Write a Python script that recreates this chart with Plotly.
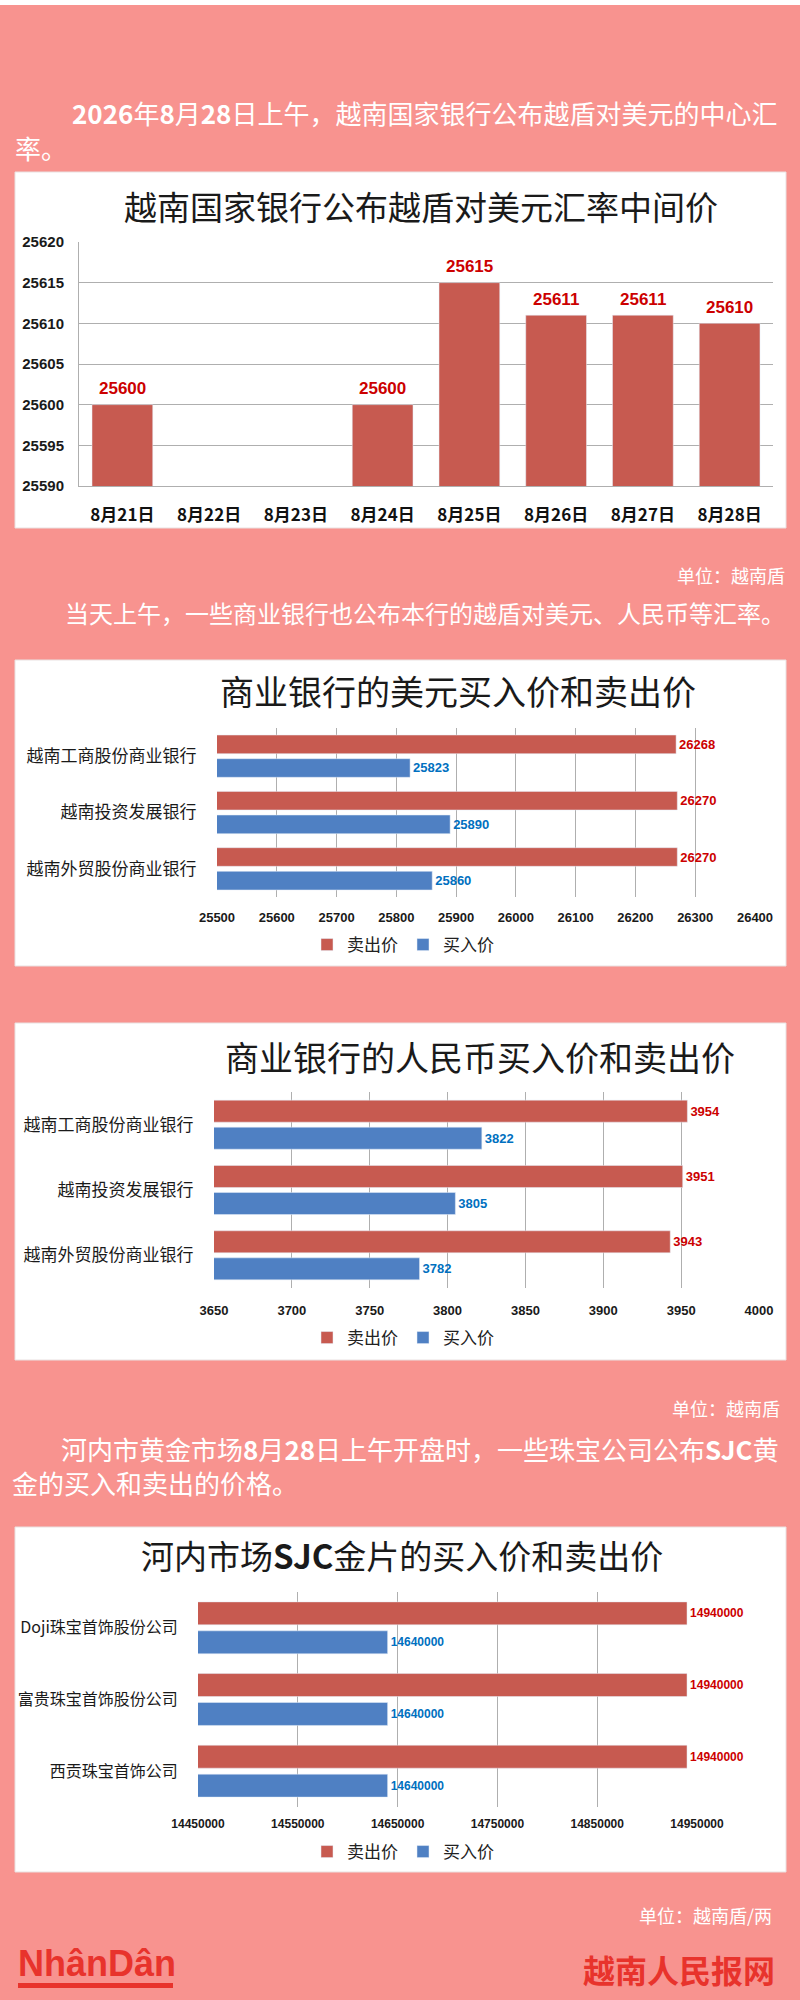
import plotly.graph_objects as go

# ---------------- data ----------------
dates = ["8月21日", "8月22日", "8月23日", "8月24日", "8月25日", "8月26日", "8月27日", "8月28日"]
mid_rate = [25600, None, None, 25600, 25615, 25611, 25611, 25610]

banks = ["越南工商股份商业银行", "越南投资发展银行", "越南外贸股份商业银行"]
usd_sell = [26268, 26270, 26270]
usd_buy = [25823, 25890, 25860]
cny_sell = [3954, 3951, 3943]
cny_buy = [3822, 3805, 3782]

gold_companies = ["Doji珠宝首饰股份公司", "富贵珠宝首饰股份公司", "西贡珠宝首饰公司"]
gold_sell = [14940000, 14940000, 14940000]
gold_buy = [14640000, 14640000, 14640000]

usd_ticks = [25500, 25600, 25700, 25800, 25900, 26000, 26100, 26200, 26300, 26400]
cny_ticks = [3650, 3700, 3750, 3800, 3850, 3900, 3950, 4000]
gold_ticks = [14450000, 14550000, 14650000, 14750000, 14850000, 14950000]
mid_ticks = [25590, 25595, 25600, 25605, 25610, 25615, 25620]

# ---------------- style ----------------
W, H = 800, 2000
BG = "#F8938F"
RED = "#C75A50"
BLUE = "#4F80C3"
LBL_RED = "#CC0000"
LBL_BLUE = "#0070C0"
GRID = "#AFAFAF"
CJK = "Noto Sans CJK SC"
NUM = "Liberation Sans, Arial, sans-serif"


def px(x):
    return x / W


def py(y):
    return 1 - y / H


fig = go.Figure()

# ---- chart 1: central rate (vertical bars) ----
fig.add_trace(go.Bar(
    x=dates, y=mid_rate, marker_color=RED, width=0.7,
    xaxis="x", yaxis="y", showlegend=False, hoverinfo="x+y",
))


def hbars(cats, sell, buy, xa, ya, legend, lsize, width, gap):
    off = gap / 2
    for name, vals, col, lcol, offset in [
        ("卖出价", sell, RED, LBL_RED, -(off + width)),
        ("买入价", buy, BLUE, LBL_BLUE, off),
    ]:
        fig.add_trace(go.Bar(
            y=cats, x=vals, orientation="h", name=name, marker_color=col,
            width=width, offset=offset, xaxis=xa, yaxis=ya, legend=legend,
            text=[str(v) for v in vals], textposition="outside",
            textfont=dict(family=NUM, size=lsize, color=lcol, weight="bold"),
            cliponaxis=False, constraintext="none",
        ))


hbars(banks, usd_sell, usd_buy, "x2", "y2", "legend", 13, 0.33, 0.09)
hbars(banks, cny_sell, cny_buy, "x3", "y3", "legend2", 13, 0.337, 0.077)
hbars(gold_companies, gold_sell, gold_buy, "x4", "y4", "legend3", 12, 0.32, 0.084)

# ---------------- axes ----------------
tick_num = lambda s: dict(family=NUM, size=s, color="#1a1a1a", weight="bold")
cat_font = lambda s: dict(family=CJK, size=s, color="#1a1a1a")

layout = dict(
    width=W, height=H, margin=dict(l=0, r=0, t=0, b=0, pad=0, autoexpand=False),
    paper_bgcolor=BG, plot_bgcolor="white", barmode="overlay",
    xaxis=dict(domain=[px(79), px(773)], anchor="y", type="category",
               categoryorder="array", categoryarray=dates, range=[-0.5, 7.5],
               showgrid=False, showline=True, linecolor=GRID, automargin=False,
               ticks="outside", ticklen=14, tickcolor="rgba(0,0,0,0)",
               tickfont=dict(family=CJK, size=17, color="#111", weight="bold")),
    yaxis=dict(domain=[py(486), py(242)], anchor="x", range=[25590, 25620],
               tickvals=mid_ticks, tickformat="d", showgrid=True, gridcolor=GRID,
               showline=True, linecolor=GRID, zeroline=False, automargin=False,
               ticks="outside", ticklen=11, tickcolor="rgba(0,0,0,0)",
               tickfont=tick_num(15)),
)


def hax(n, x0, x1, y0, y1, rng, tv, tlx, tsize):
    layout[f"xaxis{n}"] = dict(
        domain=[px(x0), px(x1)], anchor=f"y{n}", range=rng, tickvals=tv,
        tickformat="d", showgrid=True, gridcolor=GRID, zeroline=False,
        showline=False, ticks="outside", ticklen=tlx, tickcolor="rgba(0,0,0,0)",
        tickfont=tick_num(tsize), automargin=False)
    layout[f"yaxis{n}"] = dict(
        domain=[py(y1), py(y0)], anchor=f"x{n}", type="category",
        autorange="reversed", showgrid=False, showline=False, automargin=False,
        ticks="outside", ticklen=16, tickcolor="rgba(0,0,0,0)",
        tickfont=cat_font(17 if n != 4 else 16))


hax(2, 217, 755, 728, 897, [25500, 26400], usd_ticks, 8, 13)
hax(3, 214, 759, 1092, 1288, [3650, 4000], cny_ticks, 10, 13)
hax(4, 198, 697, 1592, 1807, [14450000, 14950000], gold_ticks, 6, 12)

leg = lambda y: dict(orientation="h", x=px(403), xanchor="center", y=py(y),
                     yanchor="middle", bgcolor="rgba(0,0,0,0)",
                     font=dict(family=CJK, size=17, color="#222"),
                     itemwidth=30, traceorder="normal")
layout["legend"] = leg(945)
layout["legend2"] = leg(1338)
layout["legend3"] = leg(1852)

# ---------------- shapes ----------------
shapes = [dict(type="rect", xref="paper", yref="paper", x0=0, x1=1,
               y0=py(5), y1=1, fillcolor="white", line_width=0, layer="below")]
for (t, b) in [(172, 528), (660, 966), (1023, 1360), (1527, 1872)]:
    shapes.append(dict(type="rect", xref="paper", yref="paper",
                       x0=px(15), x1=px(786), y0=py(b), y1=py(t),
                       fillcolor="white", line=dict(color="#E9E1E1", width=1),
                       layer="below"))
shapes.append(dict(type="rect", xref="paper", yref="paper",
                   x0=px(18), x1=px(173), y0=py(1988), y1=py(1983),
                   fillcolor="#E8332C", line_width=0))
layout["shapes"] = shapes

# ---------------- annotations ----------------
ann = []


def text(t, x, y, size, color="white", anchor="left", family=CJK, weight=None):
    f = dict(family=family, size=size, color=color)
    if weight:
        f["weight"] = weight
    ann.append(dict(text=t, x=px(x), y=py(y), xref="paper", yref="paper",
                    xanchor=anchor, yanchor="middle", showarrow=False, font=f))


text("<b>2026</b>年<b>8</b>月<b>28</b>日上午，越南国家银行公布越盾对美元的中心汇", 70, 113, 26)
text("率。", 13, 147, 26)
text("单位：越南盾", 787, 575, 18, anchor="right")
text("当天上午，一些商业银行也公布本行的越盾对美元、人民币等汇率。", 63, 612, 24)
text("单位：越南盾", 782, 1408, 18, anchor="right")
text("河内市黄金市场<b>8</b>月<b>28</b>日上午开盘时，一些珠宝公司公布<b>SJC</b>黄", 59, 1448, 26)
text("金的买入和卖出的价格。", 10, 1482, 26)
text("单位：越南盾/两", 774, 1915, 18, anchor="right")

# chart titles
text("越南国家银行公布越盾对美元汇率中间价", 421, 206, 33, color="#1a1a1a", anchor="center")
text("商业银行的美元买入价和卖出价", 458, 691, 34, color="#1a1a1a", anchor="center")
text("商业银行的人民币买入价和卖出价", 480, 1056, 34, color="#1a1a1a", anchor="center")
text("河内市场<b>SJC</b>金片的买入价和卖出价", 402, 1555, 33, color="#1a1a1a", anchor="center")

# footer
text("NhânDân", 16, 1963, 36, color="#E8332C", family=NUM, weight="bold")
text("越南人民报网", 777, 1969, 32, color="#E8332C", anchor="right", weight="bold")

# chart 1 value labels (positioned through the data axes)
for d, v in zip(dates, mid_rate):
    if v is not None:
        ann.append(dict(text=str(v), x=d, y=v, xref="x", yref="y", yshift=16,
                        showarrow=False, yanchor="middle",
                        font=dict(family=NUM, size=17, color=LBL_RED, weight="bold")))

layout["annotations"] = ann
fig.update_layout(**layout)
fig.write_html(
    "out.html",
    config={"displayModeBar": False},
    post_script="document.body.style.margin='0';document.body.style.overflow='hidden';",
)
